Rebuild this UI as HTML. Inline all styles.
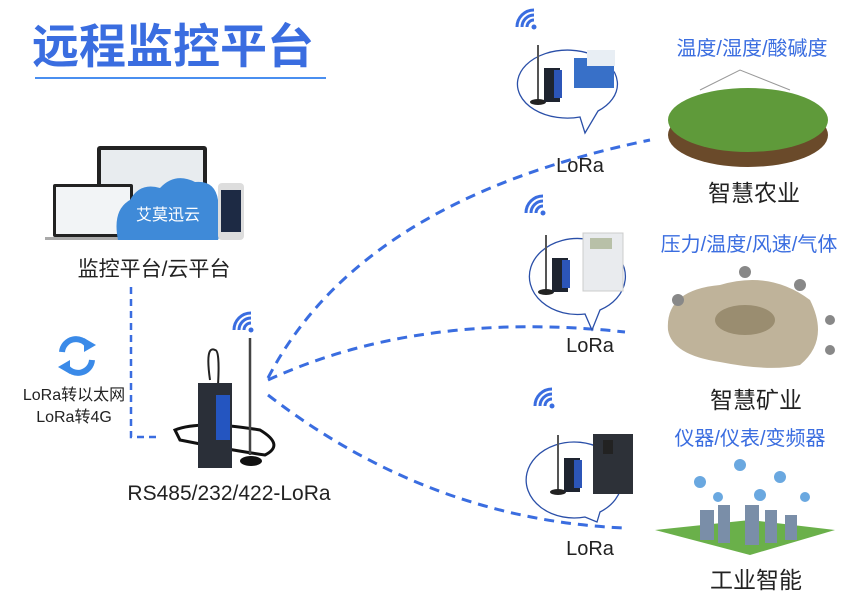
<!DOCTYPE html>
<html><head><meta charset="utf-8"><style>
html,body{margin:0;padding:0;background:#fff;}
svg{display:block}
text{font-family:"Liberation Sans","Noto Sans CJK SC",sans-serif;}
</style></head><body>
<svg width="857" height="600" viewBox="0 0 857 600" xmlns="http://www.w3.org/2000/svg">
<defs>
<g id="wifi"><circle cx="0" cy="0" r="2.5" fill="#3a6de0"/><path d="M-7,0 A7,7 0 0 1 0,-7" stroke="#3a6de0" stroke-width="3" fill="none"/><path d="M-12,0 A12,12 0 0 1 0,-12" stroke="#3a6de0" stroke-width="3" fill="none"/><path d="M-17,0 A17,17 0 0 1 0,-17" stroke="#3a6de0" stroke-width="3" fill="none"/></g>
<g id="dev"><line x1="-12" y1="-55" x2="-12" y2="0" stroke="#555" stroke-width="2"/><ellipse cx="-12" cy="2" rx="8" ry="3" fill="#222"/><rect x="-6" y="-32" width="16" height="34" fill="#1e2430"/><rect x="4" y="-30" width="8" height="28" fill="#2c55b8"/></g>
</defs>
<!-- title -->
<text x="32" y="63" font-size="47" font-weight="bold" fill="#3a6de0">远程监控平台</text>
<rect x="35" y="77" width="291" height="2" fill="#4a8ff0"/>
<!-- platform -->
<rect x="97" y="146" width="110" height="75" rx="3" fill="#222"/><rect x="101" y="150" width="102" height="66" fill="#e8ecef"/>
<rect x="53" y="184" width="80" height="53" rx="2" fill="#222"/><rect x="56" y="187" width="74" height="47" fill="#f2f4f6"/>
<rect x="45" y="237" width="95" height="3" fill="#aaa"/>
<path d="M118,240 Q112,210 130,200 Q140,182 160,188 Q175,172 195,182 Q215,180 218,200 Q228,215 218,240 Z" fill="#3f8ad8"/>
<text x="168" y="220" font-size="16" fill="#fff" text-anchor="middle">艾莫迅云</text>
<rect x="218" y="183" width="26" height="57" rx="4" fill="#ddd"/><rect x="221" y="190" width="20" height="42" fill="#1d2a44"/>
<text x="154" y="276" font-size="21" fill="#222" text-anchor="middle">监控平台/云平台</text>
<!-- vertical dashed -->
<path d="M131,287 V437 H160" stroke="#3a6de0" stroke-width="2.5" fill="none" stroke-dasharray="7,5"/>
<!-- sync icon -->
<path d="M62,352 A14,14 0 0 1 88,346" stroke="#3a8ae8" stroke-width="6" fill="none"/><path d="M84,338 L96,345 L84,352 Z" fill="#3a8ae8"/>
<path d="M92,360 A14,14 0 0 1 66,366" stroke="#3a8ae8" stroke-width="6" fill="none"/><path d="M70,374 L58,367 L70,360 Z" fill="#3a8ae8"/>
<text x="74" y="400" font-size="16" fill="#222" text-anchor="middle">LoRa转以太网</text>
<text x="74" y="422" font-size="16" fill="#222" text-anchor="middle">LoRa转4G</text>
<!-- main device -->
<path d="M210,380 Q205,345 215,350 Q220,350 218,385" stroke="#222" stroke-width="2" fill="none"/>
<path d="M175,430 Q200,420 260,430 Q285,445 265,455 Q230,450 180,440 Z" fill="none" stroke="#111" stroke-width="3"/>
<rect x="198" y="383" width="34" height="85" fill="#2a2f38"/><rect x="216" y="395" width="14" height="45" fill="#2455c0"/>
<line x1="250" y1="338" x2="250" y2="455" stroke="#444" stroke-width="2.5"/><ellipse cx="251" cy="461" rx="11" ry="5" fill="#111"/>
<use href="#wifi" x="251" y="330"/>
<text x="229" y="500" font-size="21" fill="#222" text-anchor="middle">RS485/232/422-LoRa</text>
<!-- curves -->
<g stroke="#3a6de0" stroke-width="3" fill="none" stroke-dasharray="10,7">
<path d="M268,378 Q360,200 650,140"/>
<path d="M268,380 Q420,310 625,332"/>
<path d="M268,395 Q430,520 625,528"/>
</g>
<!-- bubbles -->
<g stroke="#2a4fa8" stroke-width="1.3" fill="#fff">
<path d="M580,117 A50,34 0 1 1 598,111 L585,133 Z"/>
<path d="M585,314 A48,38 0 1 1 600,310 L592,330 Z"/>
<path d="M585,517 A48,38 0 1 1 600,512 L597,522 Z"/>
</g>
<use href="#wifi" x="534" y="27"/><use href="#dev" x="550" y="100"/>
<rect x="574" y="58" width="40" height="30" fill="#3870c8"/><rect x="587" y="50" width="28" height="16" fill="#e8eef4"/>
<text x="580" y="172" font-size="20" fill="#222" text-anchor="middle">LoRa</text>
<use href="#wifi" x="543" y="213"/><use href="#dev" x="558" y="290"/>
<rect x="583" y="233" width="40" height="58" fill="#e9ebee" stroke="#ccc"/><rect x="590" y="238" width="22" height="11" fill="#b8c0a8"/>
<text x="590" y="352" font-size="20" fill="#222" text-anchor="middle">LoRa</text>
<use href="#wifi" x="552" y="406"/><use href="#dev" x="570" y="490"/>
<rect x="593" y="434" width="40" height="60" fill="#2d3138"/><rect x="603" y="440" width="10" height="14" fill="#222"/>
<text x="590" y="555" font-size="20" fill="#222" text-anchor="middle">LoRa</text>
<!-- right -->
<text x="752" y="55" font-size="20" fill="#3a6de0" text-anchor="middle">温度/湿度/酸碱度</text>
<ellipse cx="748" cy="135" rx="80" ry="32" fill="#6a4a2a"/><ellipse cx="748" cy="120" rx="80" ry="32" fill="#5f9a3a"/>
<path d="M700,90 L740,70 L790,90" stroke="#999" fill="none"/>
<text x="754" y="201" font-size="23" fill="#222" text-anchor="middle">智慧农业</text>
<text x="749" y="251" font-size="20" fill="#3a6de0" text-anchor="middle">压力/温度/风速/气体</text>
<path d="M668,330 Q665,290 720,285 Q770,270 810,300 Q830,340 800,365 Q770,372 720,362 Q672,355 668,330 Z" fill="#bfb39a"/>
<ellipse cx="745" cy="320" rx="30" ry="15" fill="#9a8d70"/>
<circle cx="678" cy="300" r="6" fill="#888"/><circle cx="745" cy="272" r="6" fill="#888"/><circle cx="800" cy="285" r="6" fill="#888"/><circle cx="830" cy="320" r="5" fill="#888"/><circle cx="830" cy="350" r="5" fill="#888"/>
<text x="756" y="408" font-size="23" fill="#222" text-anchor="middle">智慧矿业</text>
<text x="750" y="445" font-size="20" fill="#3a6de0" text-anchor="middle">仪器/仪表/变频器</text>
<g fill="#6aa8e0"><circle cx="740" cy="465" r="6"/><circle cx="700" cy="482" r="6"/><circle cx="780" cy="477" r="6"/><circle cx="718" cy="497" r="5"/><circle cx="760" cy="495" r="6"/><circle cx="805" cy="497" r="5"/></g>
<path d="M655,530 L750,555 L835,530 L750,520 Z" fill="#6ab04a"/>
<g fill="#7a8ea8"><rect x="700" y="510" width="14" height="30"/><rect x="718" y="505" width="12" height="38"/><rect x="745" y="505" width="14" height="40"/><rect x="765" y="510" width="12" height="33"/><rect x="785" y="515" width="12" height="25"/></g>
<text x="756" y="588" font-size="23" fill="#222" text-anchor="middle">工业智能</text>
</svg>
</body></html>
